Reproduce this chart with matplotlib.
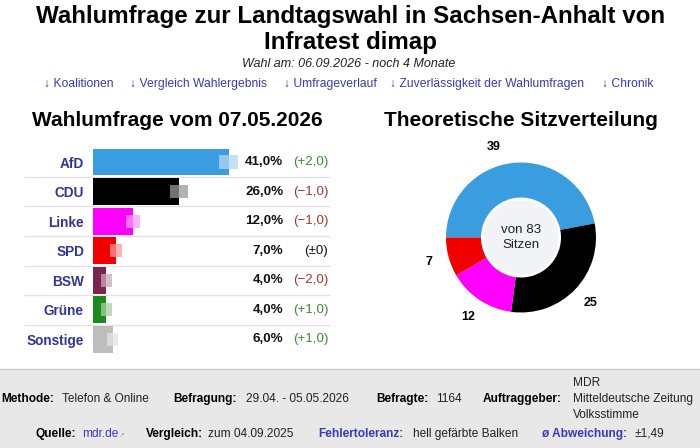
import matplotlib
matplotlib.use("Agg")
import matplotlib.pyplot as plt
from matplotlib.patches import Rectangle, Circle

plt.rcParams['font.family'] = ['Liberation Sans', 'DejaVu Sans']

# poll data
parties = ["AfD", "CDU", "Linke", "SPD", "BSW", "Grüne", "Sonstige"]
values = [41.0, 26.0, 12.0, 7.0, 4.0, 4.0, 6.0]
changes = [2.0, -1.0, -1.0, 0.0, -2.0, 1.0, 1.0]
errors = [2.9, 2.6, 2.1, 1.9, 1.7, 1.7, 1.7]
party_colors = ["#3a9de0", "#000000", "#ff00ff", "#f00000",
                "#7b2452", "#1e8a1e", "#bdbdbd"]

# seat distribution
seat_parties = ["AfD", "CDU", "Linke", "SPD"]
seats = [39, 25, 12, 7]
seat_colors = ["#3a9de0", "#000000", "#ff00ff", "#f00000"]

W, H = 700, 448
BLUE = "#33339a"
LINK = "#3a3ab8"


def fr(x0, y0, w, h):
    # pixel box (top-left origin) -> figure fraction
    return [x0 / W, 1 - (y0 + h) / H, w / W, h / H]


def fmt(v):
    return f"{v:.1f}".replace(".", ",")


fig = plt.figure(figsize=(W / 100, H / 100), dpi=100)

# background / text layer in pixel coords
bg = fig.add_axes([0, 0, 1, 1])
bg.set_xlim(0, W)
bg.set_ylim(H, 0)
bg.axis("off")

bg.text(351, 16, "Wahlumfrage zur Landtagswahl in Sachsen-Anhalt von",
        ha="center", va="center", fontsize=17.4, fontweight="bold")
bg.text(351, 42, "Infratest dimap", ha="center", va="center",
        fontsize=17.4, fontweight="bold")
bg.text(349, 64, "Wahl am: 06.09.2026 - noch 4 Monate", ha="center",
        va="center", fontsize=9, style="italic", color="#222222")

links = [(44, "↓ Koalitionen"), (130, "↓ Vergleich Wahlergebnis"),
         (284, "↓ Umfrageverlauf"), (390, "↓ Zuverlässigkeit der Wahlumfragen"),
         (602, "↓ Chronik")]
for x, t in links:
    bg.text(x, 84, t, ha="left", va="center", fontsize=8.7, color=LINK)

bg.text(177, 121, "Wahlumfrage vom 07.05.2026", ha="center", va="center",
        fontsize=15, fontweight="bold")
bg.text(521, 121, "Theoretische Sitzverteilung", ha="center", va="center",
        fontsize=15, fontweight="bold")

# footer
bg.add_patch(Rectangle((0, 369), W, H - 369, facecolor="#e8e8e8",
                       edgecolor="none"))
bg.plot([0, W], [369, 369], color="#cccccc", lw=1)

footer = [
    (1, 399, "Methode:", "bold", "black"),
    (62, 399, "Telefon & Online", "normal", "#222222"),
    (173, 399, "Befragung:", "bold", "black"),
    (246, 399, "29.04. - 05.05.2026", "normal", "#222222"),
    (376, 399, "Befragte:", "bold", "black"),
    (436, 399, "1164", "normal", "#222222"),
    (483, 399, "Auftraggeber:", "bold", "black"),
    (573, 383, "MDR", "normal", "#222222"),
    (573, 399, "Mitteldeutsche Zeitung", "normal", "#222222"),
    (573, 415, "Volksstimme", "normal", "#222222"),
    (36, 434, "Quelle:", "bold", "black"),
    (82, 434, "mdr.de", "normal", LINK),
    (146, 434, "Vergleich:", "bold", "black"),
    (208, 434, "zum 04.09.2025", "normal", "#222222"),
    (318, 434, "Fehlertoleranz:", "bold", LINK),
    (413, 434, "hell gefärbte Balken", "normal", "#222222"),
    (542, 434, "ø Abweichung:", "bold", LINK),
    (635, 434, "±1,49", "normal", "#222222"),
]
for x, y, t, wgt, c in footer:
    bg.text(x, y, t, ha="left", va="center", fontsize=8.6,
            fontweight=wgt, color=c)
bg.text(119, 435, "↗", ha="left", va="center", fontsize=5, color="#aaaaaa")

# bar chart
px_per_pct = 3.307
pitch = 29.58
top = 162 - pitch / 2
ax = fig.add_axes(fr(93, top, 237, 7 * pitch))
ax.set_facecolor("none")
xmax = 237 / px_per_pct
ax.set_xlim(0, xmax)
ax.set_ylim(len(parties) - 0.5, -0.5)

rows = list(range(len(parties)))
ax.barh(rows, values, height=0.91, color=party_colors, zorder=2)
lo = [v - e for v, e in zip(values, errors)]
hi = [v + e for v, e in zip(values, errors)]
ax.barh(rows, [v - l for v, l in zip(values, lo)], left=lo, height=0.44,
        color="white", alpha=0.45, zorder=3)
ax.barh(rows, [h - v for h, v in zip(hi, values)], left=values, height=0.44,
        color=party_colors, alpha=0.3, zorder=3)

ax.hlines([r + 0.5 for r in rows[:-1]], -69 / px_per_pct, xmax,
          color="#e3e3e3", lw=1, clip_on=False, zorder=1)

for r, v, c in zip(rows, values, changes):
    ax.text(57.5, r, fmt(v) + "%", ha="right", va="center",
            fontsize=9.6, fontweight="bold", color="#111111")
    if c > 0:
        txt, col = "(+" + fmt(c) + ")", "#3d8a35"
    elif c < 0:
        txt, col = "(\u2212" + fmt(-c) + ")", "#a83434"
    else:
        txt, col = "(±0)", "#111111"
    ax.text(71.2, r, txt, ha="right", va="center", fontsize=9.6, color=col)

ax.set_yticks(rows, parties)
for lbl in ax.get_yticklabels():
    lbl.set_fontweight("bold")
    lbl.set_color(BLUE)
    lbl.set_fontsize(9.8)
ax.tick_params(axis="y", length=0, pad=6.5)
ax.set_xticks([])
for s in ax.spines.values():
    s.set_visible(False)

# donut
pax = fig.add_axes(fr(446, 162.5, 150, 150))
pax.set_facecolor("none")
wedges, texts = pax.pie(seats, labels=[str(s) for s in seats],
                        colors=seat_colors, startangle=180,
                        counterclock=False, radius=1, labeldistance=1.27,
                        wedgeprops=dict(width=0.5, linewidth=0),
                        textprops=dict(fontsize=9, fontweight="bold",
                                       ha="center", va="center"))
# the big wedge's label sits a bit left of its middle in the original
texts[0].set_position((-0.36, 1.21))
pax.add_patch(Circle((0, 0), 0.515, facecolor="#f1f3f7",
                     edgecolor="white", lw=2, zorder=5))
pax.text(0, 0.1, "von 83", ha="center", va="center", fontsize=9.6,
         color="#222222", zorder=6)
pax.text(0, -0.1, "Sitzen", ha="center", va="center", fontsize=9.6,
         color="#222222", zorder=6)
pax.set_xlim(-1, 1)
pax.set_ylim(-1, 1)
pax.set_aspect("equal")
pax.axis("off")

fig.savefig("out.png", dpi=100)
